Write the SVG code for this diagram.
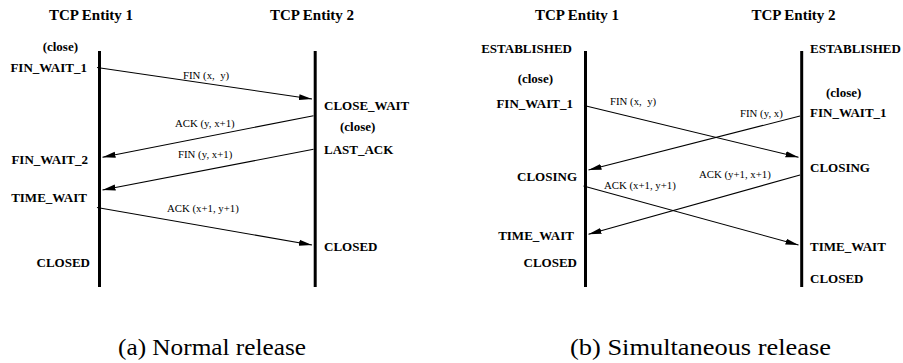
<svg xmlns="http://www.w3.org/2000/svg" width="903" height="363" viewBox="0 0 903 363">
  <style>
    text { font-family: 'Liberation Serif', 'Times New Roman', serif; fill: #000; }
    .title { font-weight: bold; font-size: 15px; text-anchor: middle; }
    .state { font-weight: bold; font-size: 13px; }
    .left { text-anchor: end; }
    .msg { font-size: 10.8px; white-space: pre; }
    .caption { font-size: 24px; }
    .life { stroke: #000; stroke-width: 3; fill: none; }
    .arrow { stroke: #000; stroke-width: 1.1; fill: none; marker-end: url(#head); }
  </style>
  <defs>
    <marker id="head" markerUnits="userSpaceOnUse" markerWidth="14" markerHeight="8" viewBox="0 -4 14 8" refX="13" refY="0" orient="auto">
      <path d="M0,-3 L13,0 L0,3 z" fill="#000"/>
    </marker>
  </defs>

  <rect width="903" height="363" fill="#fff"/>

  <!-- (a) Normal release -->
  <g id="a-entity1">
    <text class="title" x="91" y="20">TCP Entity 1</text>
    <line class="life" x1="99.5" y1="51" x2="99.5" y2="287"/>
    <text class="state left" x="78" y="50.5">(close)</text>
    <text class="state left" x="87" y="72">FIN_WAIT_1</text>
    <text class="state left" x="88" y="164">FIN_WAIT_2</text>
    <text class="state left" x="87" y="202">TIME_WAIT</text>
    <text class="state left" x="90" y="267">CLOSED</text>
  </g>
  <g id="a-entity2">
    <text class="title" x="312" y="20">TCP Entity 2</text>
    <line class="life" x1="315.2" y1="51" x2="315.2" y2="287"/>
    <text class="state" x="324" y="110">CLOSE_WAIT</text>
    <text class="state" x="340" y="131">(close)</text>
    <text class="state" x="324" y="154">LAST_ACK</text>
    <text class="state" x="324" y="251">CLOSED</text>
  </g>

  <!-- (b) Simultaneous release -->
  <g id="b-entity1">
    <text class="title" x="577" y="20">TCP Entity 1</text>
    <line class="life" x1="585.5" y1="51" x2="585.5" y2="287"/>
    <text class="state left" x="572" y="53.3">ESTABLISHED</text>
    <text class="state left" x="553" y="82.5">(close)</text>
    <text class="state left" x="573" y="108.3">FIN_WAIT_1</text>
    <text class="state left" x="577" y="181">CLOSING</text>
    <text class="state left" x="574" y="240">TIME_WAIT</text>
    <text class="state left" x="577" y="267">CLOSED</text>
  </g>
  <g id="b-entity2">
    <text class="title" x="793.5" y="20">TCP Entity 2</text>
    <line class="life" x1="801.7" y1="51" x2="801.7" y2="287"/>
    <text class="state" x="810" y="53.3">ESTABLISHED</text>
    <text class="state" x="826" y="96.7">(close)</text>
    <text class="state" x="810" y="117.3">FIN_WAIT_1</text>
    <text class="state" x="810" y="172.3">CLOSING</text>
    <text class="state" x="810" y="251">TIME_WAIT</text>
    <text class="state" x="810" y="282.7">CLOSED</text>
  </g>

  <!-- segments exchanged between the entities -->
  <g id="connectors">
    <line class="arrow" x1="97" y1="67.5" x2="312" y2="99"/>
    <text class="msg" x="183" y="79">FIN (x,  y)</text>
    <line class="arrow" x1="313.5" y1="115.7" x2="102.5" y2="157.3"/>
    <text class="msg" x="175" y="126.7">ACK (y, x+1)</text>
    <line class="arrow" x1="313.5" y1="149.3" x2="102.5" y2="190"/>
    <text class="msg" x="178" y="158.3">FIN (y, x+1)</text>
    <line class="arrow" x1="97" y1="207.5" x2="312" y2="245"/>
    <text class="msg" x="167" y="212.3">ACK (x+1, y+1)</text>

    <line class="arrow" x1="584" y1="105.5" x2="798.5" y2="157.3"/>
    <text class="msg" x="610" y="105">FIN (x,  y)</text>
    <line class="arrow" x1="800" y1="116" x2="588.5" y2="170"/>
    <text class="msg" x="740" y="116.7">FIN (y, x)</text>
    <line class="arrow" x1="800" y1="175" x2="588.5" y2="234.3"/>
    <text class="msg" x="699" y="177.7">ACK (y+1, x+1)</text>
    <line class="arrow" x1="583.5" y1="186" x2="798.5" y2="245"/>
    <text class="msg" x="604" y="189">ACK (x+1, y+1)</text>
  </g>

  <g id="captions">
    <text class="caption" x="118" y="355" textLength="188" lengthAdjust="spacingAndGlyphs">(a) Normal release</text>
    <text class="caption" x="570" y="355" textLength="261" lengthAdjust="spacingAndGlyphs">(b) Simultaneous release</text>
  </g>
</svg>
